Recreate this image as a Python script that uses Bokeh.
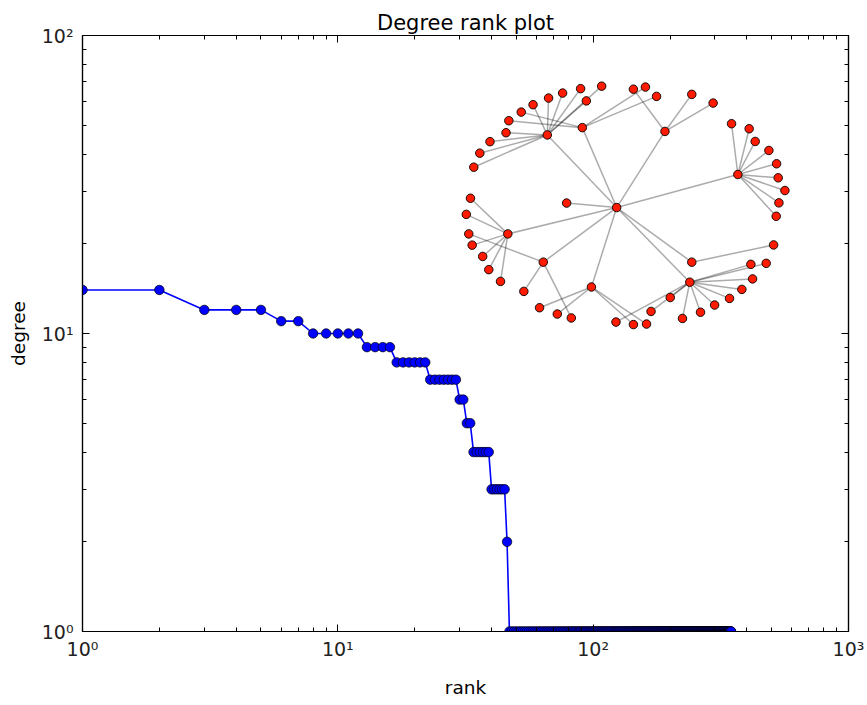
import numpy as np
from bokeh.plotting import figure
from bokeh.models import Range1d, LinearScale, LogAxis, FixedTicker
from bokeh.embed import file_html
from bokeh.resources import INLINE

# Degree sequence, grouped: each degree value and how many nodes carry it
degree_values = [14, 12, 11, 10, 9, 8, 7, 6, 5, 4, 3, 2, 1]
node_counts = [2, 3, 2, 5, 4, 6, 7, 2, 2, 6, 6, 1, 301]

x_tick_labels = {1: "10⁰", 10: "10¹", 100: "10²", 1000: "10³"}
y_tick_labels = {1: "10⁰", 10: "10¹", 100: "10²"}

# Largest connected component: layout positions of its nodes
node_x = [0.0, -0.693, -0.343, 0.482, 1.21, -1.087, -0.733, -0.252, 0.75, 0.73,
          -1.427, -1.367, -1.265, -1.105, -0.835, -0.68, -0.54, -0.36, -0.303, -0.15,
          -1.077, -0.953, 0.287, 0.398,
          0.167, 0.75, 0.963,
          1.147, 1.323, 1.383, 1.52, 1.597, 1.613, 1.68, 1.62, 1.593,
          -1.46, -1.502, -1.443, -1.338, -1.277, -1.16,
          -1.477, -0.927, -0.453,
          -0.77, -0.593, 0.167, 0.298,
          -0.007, 0.343, 0.535, 0.657, 0.837, 0.978, 1.127, 1.25, 1.357, 1.34, 1.493,
          1.567, -0.5]
node_y = [0.0, 0.725, 0.798, 0.76, 0.33, -0.263, -0.545, -0.793, -0.545, -0.745,
          0.403, 0.543, 0.658, 0.747, 1.027, 1.093, 1.143, 1.187, 1.065, 1.212,
          0.867, 0.953, 1.203, 1.11,
          1.182, 1.13, 1.043,
          0.837, 0.787, 0.66, 0.57, 0.437, 0.297, 0.17, 0.047, -0.087,
          0.093, -0.068, -0.375, -0.488, -0.62, -0.737,
          -0.263, -0.837, -1.102,
          -1.0, -1.063, -1.168, -1.163,
          -1.143, -1.037, -0.898, -1.107, -1.045, -0.973, -0.907, -0.817, -0.712, -0.567, -0.557,
          -0.373, 0.045]
edge_src = [0, 0, 0, 0, 0, 0, 0, 0, 0, 0,
            1, 1, 1, 1, 1, 1, 1, 1, 1, 1,
            2, 2, 2, 2,
            3, 3, 3,
            4, 4, 4, 4, 4, 4, 4, 4, 4,
            5, 5, 5, 5, 5, 5,
            6, 6, 6,
            7, 7, 7, 7,
            9, 9, 9, 9, 9, 9, 9, 9, 9, 9, 9,
            8]
edge_dst = [1, 2, 3, 4, 5, 6, 7, 8, 9, 61,
            10, 11, 12, 13, 14, 15, 16, 17, 18, 19,
            20, 21, 22, 23,
            24, 25, 26,
            27, 28, 29, 30, 31, 32, 33, 34, 35,
            36, 37, 38, 39, 40, 41,
            42, 43, 44,
            45, 46, 47, 48,
            49, 50, 51, 52, 53, 54, 55, 56, 57, 58, 59,
            60]

# Where the network inset sits, as fractions of the plotting frame
inset_left, inset_right, inset_bottom, inset_top = 0.501, 0.917, 0.515, 0.915

degree_sequence = np.repeat(degree_values, node_counts)
rank = np.arange(1, len(degree_sequence) + 1)

FONT = "DejaVu Sans"

p = figure(width=867, height=705, x_axis_type="log", y_axis_type="log",
           x_range=Range1d(1, 1000), y_range=Range1d(1, 100),
           output_backend="svg", toolbar_location=None,
           title="Degree rank plot",
           min_border_left=82, min_border_right=19,
           min_border_top=35, min_border_bottom=74)

p.title.text_font = FONT
p.title.text_font_size = "21px"
p.title.text_font_style = "normal"
p.title.align = "center"
p.title.text_color = "black"
p.title.standoff = 2

p.grid.visible = False
p.outline_line_color = "black"
p.outline_line_width = 1.2
p.background_fill_color = "white"
p.border_fill_color = "white"

x_minor = [m * 10 ** k for k in range(0, 3) for m in range(2, 10)]
y_minor = [m * 10 ** k for k in range(0, 2) for m in range(2, 10)]
x_ticker = FixedTicker(ticks=list(x_tick_labels.keys()), minor_ticks=x_minor)
y_ticker = FixedTicker(ticks=list(y_tick_labels.keys()), minor_ticks=y_minor)


def style_axis(ax, ticker, labels, show_labels):
    ax.ticker = ticker
    ax.axis_line_color = "black"
    ax.axis_line_width = 1.2
    ax.major_tick_in = 7
    ax.major_tick_out = 0
    ax.minor_tick_in = 4
    ax.minor_tick_out = 0
    ax.major_tick_line_color = "black"
    ax.minor_tick_line_color = "black"
    ax.major_label_overrides = labels
    ax.major_label_text_font = FONT
    if show_labels:
        ax.major_label_text_font_size = "19px"
        ax.major_label_text_color = "#222222"
        ax.axis_label_text_font = FONT
        ax.axis_label_text_font_size = "18.5px"
        ax.axis_label_text_font_style = "normal"
        ax.axis_label_text_color = "black"
    else:
        # tick marks only: labels kept tiny and transparent
        ax.major_label_text_font_size = "1px"
        ax.major_label_text_alpha = 0
        ax.major_label_standoff = 0


xa = p.below[0]
ya = p.left[0]
style_axis(xa, x_ticker, x_tick_labels, True)
style_axis(ya, y_ticker, y_tick_labels, True)
xa.axis_label = "rank"
ya.axis_label = "degree"
xa.major_label_standoff = 6
xa.axis_label_standoff = 14
ya.major_label_standoff = 9
ya.axis_label_standoff = 10

top_axis = LogAxis()
style_axis(top_axis, x_ticker, x_tick_labels, False)
p.add_layout(top_axis, "above")
right_axis = LogAxis()
style_axis(right_axis, y_ticker, y_tick_labels, False)
p.add_layout(right_axis, "right")

# Degree-rank curve
p.line(rank, degree_sequence, line_color="#0000ff", line_width=1.6)
p.scatter(rank, degree_sequence, size=9.5, fill_color="#0000ff",
          line_color="black", line_width=0.7)

# Network inset on its own linear scales
ux0, ux1 = min(node_x), max(node_x)
vy0, vy1 = min(node_y), max(node_y)
full_x = (ux1 - ux0) / (inset_right - inset_left)
full_y = (vy1 - vy0) / (inset_top - inset_bottom)
gx_start = ux0 - inset_left * full_x
gy_start = vy0 - inset_bottom * full_y
p.extra_x_ranges = {"net_x": Range1d(gx_start, gx_start + full_x)}
p.extra_y_ranges = {"net_y": Range1d(gy_start, gy_start + full_y)}
p.extra_x_scales = {"net_x": LinearScale()}
p.extra_y_scales = {"net_y": LinearScale()}

edge_xs = [[node_x[s], node_x[d]] for s, d in zip(edge_src, edge_dst)]
edge_ys = [[node_y[s], node_y[d]] for s, d in zip(edge_src, edge_dst)]
p.multi_line(edge_xs, edge_ys, line_color="black", line_alpha=0.33, line_width=1.5,
             x_range_name="net_x", y_range_name="net_y")
p.scatter(node_x, node_y, size=8.5, fill_color="#ff1a00", line_color="black",
          line_width=0.9, x_range_name="net_x", y_range_name="net_y")

open("out.html", "w").write(file_html(p, INLINE))
